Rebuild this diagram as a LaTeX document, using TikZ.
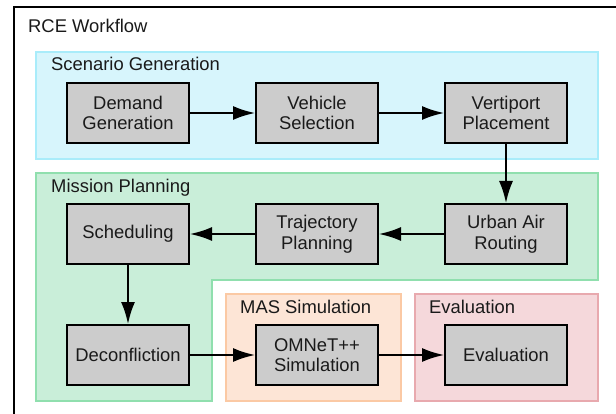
\documentclass[tikz,border=0pt]{standalone}
\usepackage{fontspec}
\setmainfont{Liberation Sans}
\usetikzlibrary{arrows.meta}
\definecolor{cyanfill}{HTML}{D7F5FC}
\definecolor{cyanline}{HTML}{A9ECFA}
\definecolor{greenfill}{HTML}{C9EED9}
\definecolor{greenline}{HTML}{90DFAE}
\definecolor{orangefill}{HTML}{FDE5D6}
\definecolor{orangeline}{HTML}{FBC9A4}
\definecolor{pinkfill}{HTML}{F5D8DB}
\definecolor{pinkline}{HTML}{E8A9AE}
\definecolor{nodefill}{HTML}{CCCCCC}
\definecolor{txt}{HTML}{1A1A1A}
\tikzset{
  stepbox/.style={draw=black, fill=nodefill, line width=2pt, minimum width=122pt, minimum height=60pt,
    align=center, inner sep=0pt, text=txt, font=\fontsize{18.4}{20.5}\selectfont},
  flow/.style={line width=2pt, -{Latex[length=22pt,width=14pt]}},
  lbl/.style={anchor=base west, inner sep=0pt, text=txt, font=\fontsize{18.4}{20.5}\selectfont},
  region/.style={line width=1.5pt}
}
\begin{document}
\begin{tikzpicture}[x=1pt,y=-1pt]
\useasboundingbox (0,0) rectangle (616,414);
\clip (0,0) rectangle (616,414);
\fill[white] (0,0) rectangle (616,414);
% outer frame
\draw[line width=2pt] (14,7) rectangle (640,440);
\node[lbl] (title) at (28,33) {RCE Workflow};
% regions
\draw[region, draw=cyanline, fill=cyanfill] (36,52) rectangle (598,159);
\node[lbl] (sglbl) at (51,71) {Scenario Generation};
\draw[region, draw=greenline, fill=greenfill] (36,173) -- (598,173) -- (598,280) -- (212,280) -- (212,401) -- (36,401) -- cycle;
\node[lbl] (mplbl) at (51,193) {Mission Planning};
\draw[region, draw=orangeline, fill=orangefill] (226,294) rectangle (401,401);
\node[lbl] (maslbl) at (240,313) {MAS Simulation};
\draw[region, draw=pinkline, fill=pinkfill] (415,294) rectangle (598,401);
\node[lbl] (evlbl) at (429,313) {Evaluation};
% nodes
\node[stepbox] (demand) at (128,113) {Demand\\Generation};
\node[stepbox] (vehicle) at (317,113) {Vehicle\\Selection};
\node[stepbox] (vertiport) at (506,113) {Vertiport\\Placement};
\node[stepbox] (sched) at (128,234) {Scheduling};
\node[stepbox] (traj) at (317,234) {Trajectory\\Planning};
\node[stepbox] (urban) at (506,234) {Urban Air\\Routing};
\node[stepbox] (decon) at (128,355) {Deconfliction};
\node[stepbox] (omnet) at (317,355) {OMNeT++\\Simulation};
\node[stepbox] (evalnode) at (506,355) {Evaluation};
% connectors
\draw[flow] (demand) -- (vehicle);
\draw[flow] (vehicle) -- (vertiport);
\draw[flow] (vertiport) -- (urban);
\draw[flow] (urban) -- (traj);
\draw[flow] (traj) -- (sched);
\draw[flow] (sched) -- (decon);
\draw[flow] (decon) -- (omnet);
\draw[flow] (omnet) -- (evalnode);
\end{tikzpicture}
\end{document}
